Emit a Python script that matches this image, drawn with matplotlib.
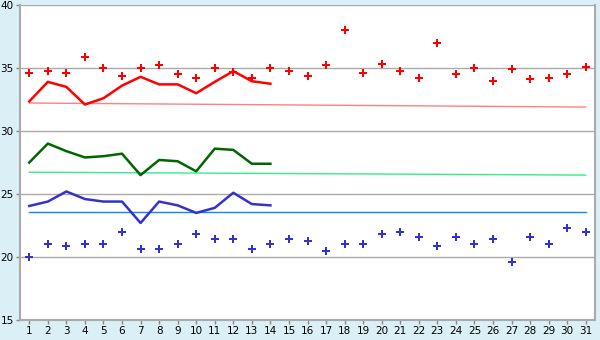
import matplotlib
matplotlib.use("Agg")
import matplotlib.pyplot as plt

days = list(range(1, 32))
line_days = list(range(1, 15))

red_points = [34.6, 34.8, 34.6, 35.9, 35.0, 34.4, 35.0, 35.2, 34.5, 34.2,
              35.0, 34.7, 34.2, 35.0, 34.8, 34.4, 35.2, 38.0, 34.6, 35.3,
              34.8, 34.2, 37.0, 34.5, 35.0, 34.0, 34.9, 34.1, 34.2, 34.5, 35.1]
blue_points = [20.0, 21.0, 20.9, 21.0, 21.0, 22.0, 20.6, 20.6, 21.0, 21.8,
               21.4, 21.4, 20.6, 21.0, 21.4, 21.25, 20.5, 21.0, 21.0, 21.8,
               22.0, 21.6, 20.85, 21.6, 21.0, 21.4, 19.6, 21.6, 21.0, 22.3, 22.0]

red_line = [32.35, 33.9, 33.5, 32.1, 32.6, 33.6, 34.3, 33.7, 33.7, 33.0,
            33.9, 34.75, 33.95, 33.75]
green_line = [27.5, 29.0, 28.4, 27.9, 28.0, 28.2, 26.5, 27.7, 27.6, 26.8,
              28.6, 28.5, 27.4, 27.4]
blue_line = [24.05, 24.4, 25.2, 24.6, 24.4, 24.4, 22.7, 24.4, 24.1, 23.5,
             23.9, 25.1, 24.2, 24.1]

trend_days = [1, 31]
red_trend = [32.22, 31.9]
green_trend = [26.73, 26.5]
blue_trend = [23.55, 23.55]

y_ticks = [15, 20, 25, 30, 35, 40]

bg = "#daf0f6"
fig = plt.figure(figsize=(6.0, 3.4), dpi=100, facecolor=bg)
ax = fig.add_axes([20/600, 20/340, 575/600, 315/340])
ax.set_facecolor("white")

for y in y_ticks[1:]:
    ax.axhline(y, color="#aaaaaa", lw=1.0, zorder=1)

ax.plot(trend_days, red_trend, color="#ff8080", lw=1.0, zorder=2)
ax.plot(trend_days, green_trend, color="#33ee88", lw=1.0, zorder=2)
ax.plot(trend_days, blue_trend, color="#1188ee", lw=1.0, zorder=2)

ax.plot(line_days, red_line, color="#ff0000", lw=1.8, zorder=3)
ax.plot(line_days, green_line, color="#006600", lw=1.8, zorder=3)
ax.plot(line_days, blue_line, color="#3333cc", lw=1.8, zorder=3)

ax.plot(days, red_points, ls="none", marker="P", ms=5.5, color="#ff0000",
        mec="#ff0000", mew=0, zorder=4)
ax.plot(days, blue_points, ls="none", marker="P", ms=5.5, color="#3333cc",
        mec="#3333cc", mew=0, zorder=4)

ax.set_xlim(0.5, 31.5)
ax.set_ylim(15, 40)
ax.set_xticks(days)
ax.set_xticklabels([str(d) for d in days])
ax.set_yticks(y_ticks)
ax.tick_params(axis="both", colors="#888888", labelcolor="black",
               labelsize=7.5, length=3, width=1, direction="out", pad=1.5)
for s in ["left", "bottom", "right"]:
    ax.spines[s].set_color("#aaaaaa")
    ax.spines[s].set_linewidth(1.5)
ax.spines["top"].set_visible(False)

fig.savefig("out.png", dpi=100, facecolor=bg)
